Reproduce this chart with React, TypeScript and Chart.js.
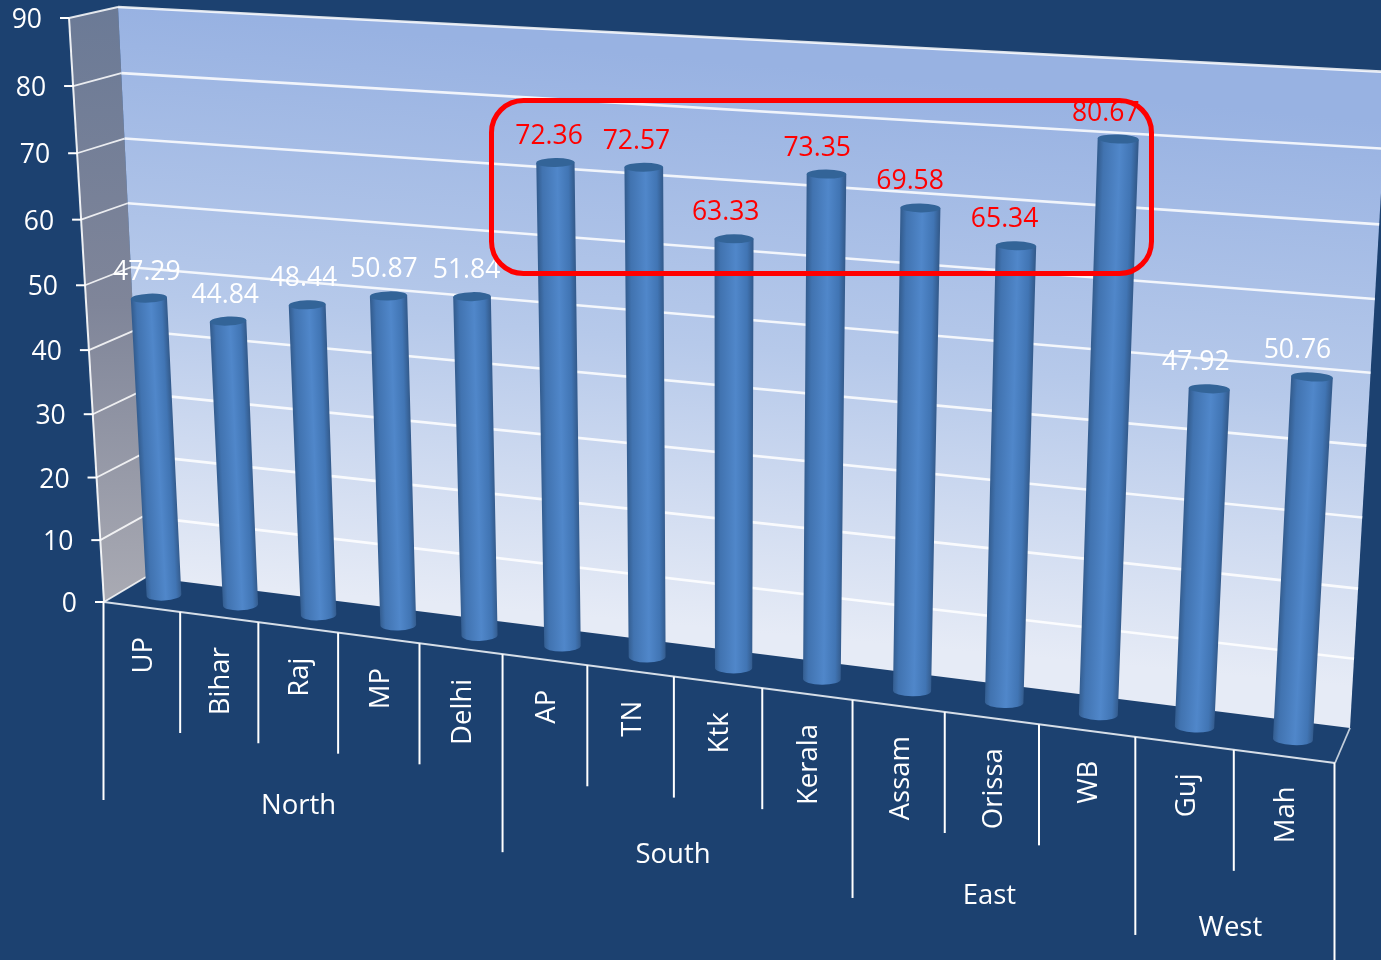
import React, { useEffect, useRef } from "react";
import { Chart, registerables } from "chart.js";

Chart.register(...registerables);

const categories = ["UP", "Bihar", "Raj", "MP", "Delhi", "AP", "TN", "Ktk", "Kerala", "Assam", "Orissa", "WB", "Guj", "Mah"];
const values = [47.29, 44.84, 48.44, 50.87, 51.84, 72.36, 72.57, 63.33, 73.35, 69.58, 65.34, 80.67, 47.92, 50.76];
const highlighted = ["AP", "TN", "Ktk", "Kerala", "Assam", "Orissa", "WB"];
const groupNames = ["North", "South", "East", "West"];
const groupSizes = [5, 4, 3, 2];

type P = [number, number];
const BACK: P[] = [[118, 7], [1388, 72], [1350, 728], [146, 577]];
const FRONT: P[] = [[69, 18], [1373, 91], [1335, 763], [104, 602]];
const BAR_DEPTH = 0.53;
const BG = "#1c4170";
const FONT = "26.5px 'Open Sans'";
const CAT_FONT = "27.5px 'Open Sans'";
const RED = "#ff0000";

function homography(q: P[]) {
  const [[x0, y0], [x1, y1], [x2, y2], [x3, y3]] = q;
  const dx1 = x1 - x2, dx2 = x3 - x2, sx = x0 - x1 + x2 - x3;
  const dy1 = y1 - y2, dy2 = y3 - y2, sy = y0 - y1 + y2 - y3;
  const den = dx1 * dy2 - dx2 * dy1;
  const g = (sx * dy2 - dx2 * sy) / den;
  const h = (dx1 * sy - sx * dy1) / den;
  const a = x1 - x0 + g * x1, b = x3 - x0 + h * x3;
  const d = y1 - y0 + g * y1, e = y3 - y0 + h * y3;
  return (s: number, t: number): P => {
    const w = g * s + h * t + 1;
    return [(a * s + b * t + x0) / w, (d * s + e * t + y0) / w];
  };
}

const mixQuad = (k: number, dy: number) =>
  FRONT.map((p, i): P => [p[0] + (BACK[i][0] - p[0]) * k, p[1] + (BACK[i][1] - p[1]) * k + dy]);

const onBack = homography(BACK);
const onFront = homography(FRONT);
const onBars = homography(mixQuad(BAR_DEPTH, 1.5));

function poly(ctx: CanvasRenderingContext2D, pts: P[]) {
  ctx.beginPath();
  pts.forEach((p, i) => (i ? ctx.lineTo(p[0], p[1]) : ctx.moveTo(p[0], p[1])));
  ctx.closePath();
}
function line(ctx: CanvasRenderingContext2D, a: P, b: P, width: number, color: string) {
  ctx.strokeStyle = color;
  ctx.lineWidth = width;
  ctx.beginPath();
  ctx.moveTo(a[0], a[1]);
  ctx.lineTo(b[0], b[1]);
  ctx.stroke();
}

const perspectivePlugin = {
  id: "perspective",
  beforeDatasetsDraw(chart: any) {
    const { ctx, chartArea: A, scales } = chart;
    const S = (px: number) => (px - A.left) / (A.right - A.left);
    const T = (px: number) => (px - A.top) / (A.bottom - A.top);
    const x = scales.x, y = scales.y;
    ctx.save();

    // walls
    const sideG = ctx.createLinearGradient(0, 7, 0, 600);
    sideG.addColorStop(0, "#6b7a96");
    sideG.addColorStop(0.5, "#7f8599");
    sideG.addColorStop(1, "#a9aab3");
    poly(ctx, [FRONT[0], BACK[0], BACK[3], FRONT[3]]);
    ctx.fillStyle = sideG;
    ctx.fill();

    const backG = ctx.createLinearGradient(118, 7, 67, 570);
    backG.addColorStop(0, "#98b2e2");
    backG.addColorStop(0.5, "#b6c9ea");
    backG.addColorStop(1, "#e6ebf6");
    poly(ctx, BACK);
    ctx.fillStyle = backG;
    ctx.fill();

    // value axis: gridlines, ticks, labels
    ctx.font = FONT;
    ctx.textAlign = "right";
    ctx.textBaseline = "middle";
    y.ticks.forEach((tk: any) => {
      const t = T(y.getPixelForValue(tk.value));
      const f = onFront(0, t);
      const bl = onBack(0, t);
      const br = onBack(1, t);
      if (tk.value > 0) {
        line(ctx, bl, br, 2.6, "rgba(255,255,255,0.85)");
      }
      line(ctx, f, bl, 1.8, "rgba(255,255,255,0.85)");
      line(ctx, [f[0] - 9, f[1]], f, 2, "#ffffff");
      ctx.fillStyle = "#ffffff";
      ctx.fillText(String(tk.value), f[0] - 27, f[1] + 2.5);
    });
    line(ctx, FRONT[0], FRONT[3], 2, "rgba(255,255,255,0.9)");

    // floor outline
    line(ctx, FRONT[3], FRONT[2], 1.8, "rgba(235,240,245,0.9)");
    line(ctx, FRONT[2], BACK[2], 1.8, "rgba(235,240,245,0.8)");

    // category axis: ticks and labels
    const t0 = T(y.getPixelForValue(0));
    const n = categories.length;
    const groupEdges = [0];
    groupSizes.forEach((g) => groupEdges.push(groupEdges[groupEdges.length - 1] + g));
    for (let i = 0; i <= n; i++) {
      const p = onFront(S(x.getPixelForValue(i - 0.5)), t0);
      const long = groupEdges.includes(i);
      line(ctx, [p[0] - 0.5, p[1]], [p[0] - 0.5, p[1] + (long ? 198 : 121)], 2, "#ffffff");
    }
    ctx.font = CAT_FONT;
    ctx.fillStyle = "#ffffff";
    categories.forEach((c, i) => {
      const p = onFront(S(x.getPixelForValue(i)), t0);
      ctx.save();
      ctx.translate(p[0] + 2, p[1] + 30);
      ctx.rotate(-Math.PI / 2);
      ctx.textAlign = "right";
      ctx.textBaseline = "middle";
      ctx.fillText(c, 0, 0);
      ctx.restore();
    });
    ctx.textAlign = "center";
    groupNames.forEach((g, i) => {
      const a = onFront(S(x.getPixelForValue(groupEdges[i] - 0.5)), t0);
      const b = onFront(S(x.getPixelForValue(groupEdges[i + 1] - 0.5)), t0);
      ctx.fillText(g, (a[0] + b[0]) / 2 - 5, (a[1] + b[1]) / 2 + 178);
    });
    ctx.restore();
  },
  afterDatasetsDraw(chart: any) {
    const { ctx, chartArea: A } = chart;
    const S = (px: number) => (px - A.left) / (A.right - A.left);
    const T = (px: number) => (px - A.top) / (A.bottom - A.top);
    const tops: P[] = [];
    ctx.save();
    chart.getDatasetMeta(0).data.forEach((el: any) => {
      const sc = S(el.x);
      const hw = el.width / 2 / (A.right - A.left);
      const mapped = (t: number) => {
        const l = onBars(sc - hw, t), r = onBars(sc + hw, t);
        return r[0] - l[0];
      };
      const top = onBars(sc, T(el.y));
      const bot = onBars(sc, T(el.base));
      tops.push(top);
      const wT = 19.5 + 0.43 * mapped(T(el.y));
      const wB = 18.5 + 0.43 * mapped(T(el.base));
      const ang = Math.atan2(top[1] - bot[1], top[0] - bot[0]) + Math.PI / 2;
      const nx = Math.cos(ang), ny = Math.sin(ang);
      const ry = 4.5, rb = 5.5;
      const tl: P = [top[0] - (nx * wT) / 2, top[1] - (ny * wT) / 2];
      const tr: P = [top[0] + (nx * wT) / 2, top[1] + (ny * wT) / 2];
      const bl: P = [bot[0] - (nx * wB) / 2, bot[1] - (ny * wB) / 2];

      const grad = ctx.createLinearGradient(bot[0] - (nx * wB) / 2, bot[1] - (ny * wB) / 2, bot[0] + (nx * wB) / 2, bot[1] + (ny * wB) / 2);
      grad.addColorStop(0, "#345e91");
      grad.addColorStop(0.14, "#4173b0");
      grad.addColorStop(0.55, "#5087ca");
      grad.addColorStop(0.85, "#4175b4");
      grad.addColorStop(1, "#345c8e");

      ctx.beginPath();
      ctx.moveTo(tl[0], tl[1]);
      ctx.lineTo(bl[0], bl[1]);
      ctx.ellipse(bot[0], bot[1], wB / 2, rb, ang, Math.PI, 0, true);
      ctx.lineTo(tr[0], tr[1]);
      ctx.closePath();
      ctx.fillStyle = grad;
      ctx.fill();

      ctx.beginPath();
      ctx.ellipse(top[0], top[1], wT / 2, ry, ang, 0, Math.PI * 2);
      ctx.fillStyle = "#336498";
      ctx.fill();
    });

    // data labels
    ctx.font = FONT;
    ctx.textAlign = "center";
    ctx.textBaseline = "middle";
    values.forEach((v, i) => {
      const p = tops[i];
      ctx.fillStyle = highlighted.includes(categories[i]) ? RED : "#ffffff";
      ctx.fillText(v.toFixed(2), p[0] - 2 - 0.0108 * (p[0] - tops[0][0]), p[1] - 26);
    });

    // highlight frame
    ctx.strokeStyle = RED;
    ctx.lineWidth = 5;
    ctx.beginPath();
    ctx.roundRect(491.5, 100.5, 660, 173, 32);
    ctx.stroke();
    ctx.restore();
  },
};

export default function App() {
  const ref = useRef<HTMLCanvasElement>(null);
  useEffect(() => {
    const chart = new Chart(ref.current as HTMLCanvasElement, {
      type: "bar",
      data: {
        labels: categories,
        datasets: [
          {
            data: values,
            backgroundColor: "rgba(0,0,0,0)",
            borderWidth: 0,
            barPercentage: 0.5,
            categoryPercentage: 1,
          },
        ],
      },
      options: {
        responsive: false,
        animation: false,
        devicePixelRatio: 1,
        layout: { padding: 0 },
        plugins: { legend: { display: false }, title: { display: false }, tooltip: { enabled: false } },
        scales: {
          x: { display: false, offset: true },
          y: { display: false, min: 0, max: 90, ticks: { stepSize: 10 } },
        },
      },
      plugins: [perspectivePlugin],
    } as any);
    return () => chart.destroy();
  }, []);
  return (
    <div style={{ position: "fixed", left: 0, top: 0, width: 1381, height: 960, background: BG, overflow: "hidden" }}>
      <canvas ref={ref} width={1381} height={960} style={{ display: "block" }} />
    </div>
  );
}
